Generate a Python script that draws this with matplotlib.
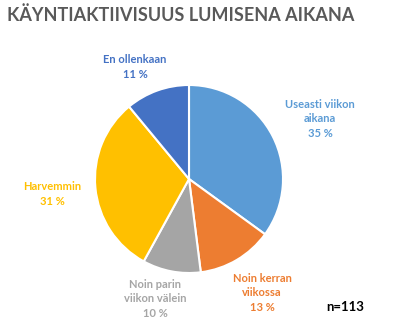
import matplotlib
matplotlib.use("Agg")
import matplotlib.pyplot as plt

categories = ["Useasti viikon\naikana", "Noin kerran\nviikossa", "Noin parin\nviikon välein",
              "Harvemmin", "En ollenkaan"]
values = [35, 13, 10, 31, 11]
colors = ["#5B9BD5", "#ED7D31", "#A5A5A5", "#FFC000", "#4472C4"]
title = "KÄYNTIAKTIIVISUUS LUMISENA AIKANA"
n_text = "n=113"

plt.rcParams['font.family'] = ['Lato', 'DejaVu Sans']

fig = plt.figure(figsize=(3.97, 3.26), dpi=100)
ax = fig.add_axes([0, 0, 1, 1])

ax.pie(values, colors=colors, startangle=90, counterclock=False,
       center=(189, 147), radius=94, frame=True,
       wedgeprops=dict(edgecolor="white", linewidth=1.5))
ax.set_xlim(0, 397)
ax.set_ylim(0, 326)
ax.axis('off')

# label positions (pixels from top-left)
label_pos = [(320, 119), (262, 293), (155, 299), (52, 194), (135, 67)]
for lab, v, c, (x, y) in zip(categories, values, colors, label_pos):
    ax.text(x, 326 - y, f"{lab}\n{v} %", color=c, fontsize=8, fontweight='bold',
            ha='center', va='center', linespacing=1.35)

ax.text(345, 326 - 307, n_text, color="black", fontsize=9.5, fontweight='bold',
        ha='center', va='center')

fig.text(7 / 397, 1 - 15 / 326, title, color="#595959", fontsize=13,
         fontweight='bold', ha='left', va='center')

fig.savefig("out.png", dpi=100)
